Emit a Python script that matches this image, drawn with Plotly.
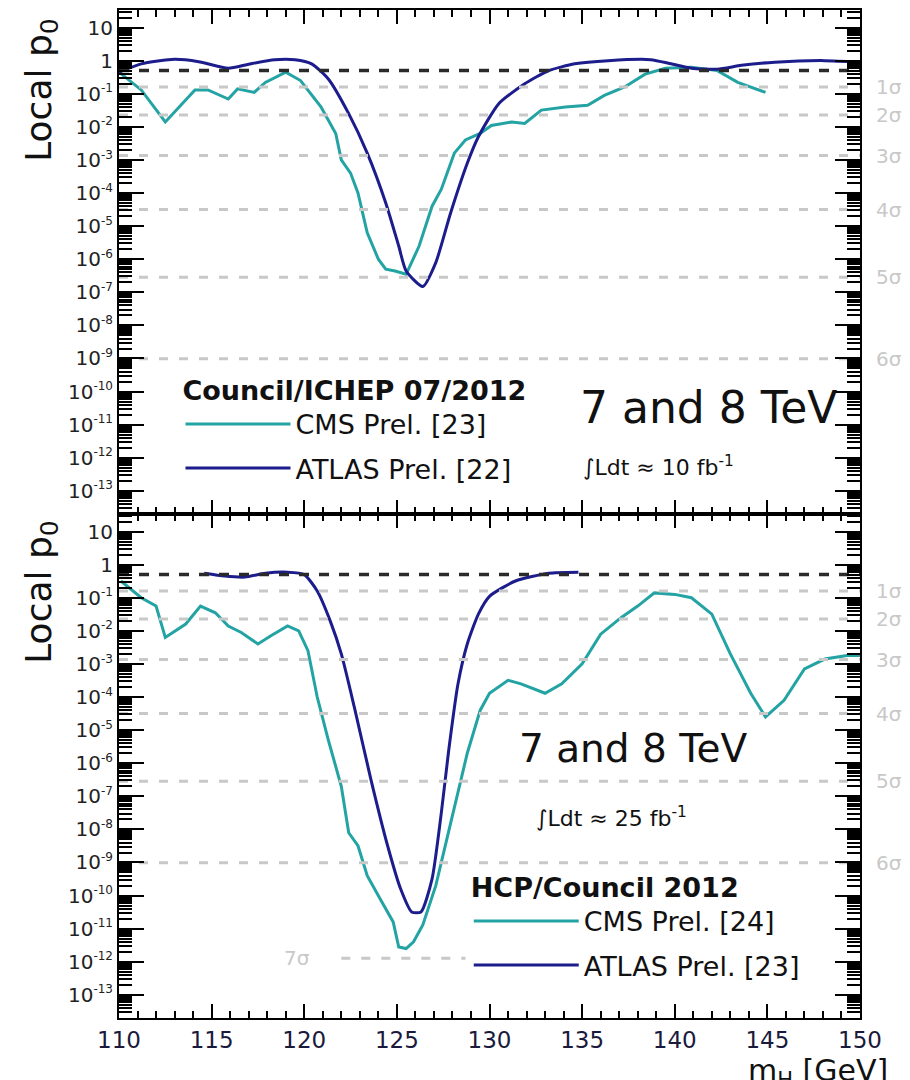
import math

import plotly.graph_objects as go
from plotly.subplots import make_subplots

# Council/ICHEP 07/2012 (top panel)
mass_cms_jul = [110.0, 111.2, 112.5, 114.1, 114.8, 115.9, 116.4, 117.3, 117.9, 119.0,
                119.8, 120.9, 121.7, 122.0, 122.5, 122.9, 123.4, 124.0, 124.4, 124.9,
                125.5, 126.2, 126.9, 127.4, 128.1, 128.7, 129.5, 130.1, 131.2, 131.9,
                132.8, 134.1, 135.3, 136.2, 137.3, 138.4, 139.5, 140.9, 142.3, 143.4, 144.9]
p0_cms_jul = [0.45, 0.13, 0.014, 0.13, 0.13, 0.069, 0.14, 0.11, 0.22, 0.45,
              0.25, 0.04, 6.3e-3, 1.0e-3, 4.0e-4, 1.0e-4, 6.3e-6, 1.0e-6, 5.0e-7, 4.4e-7,
              3.5e-7, 2.5e-6, 4.0e-5, 1.3e-4, 1.6e-3, 4.0e-3, 6.3e-3, 0.011, 0.014, 0.0126,
              0.032, 0.04, 0.045, 0.089, 0.16, 0.39, 0.59, 0.63, 0.5, 0.22, 0.11]

mass_atlas_jul = [110.0, 111.2, 113.0, 114.3, 115.9, 117.0, 118.4, 119.5, 120.4, 121.3,
                  122.4, 123.4, 124.4, 125.1, 125.5, 126.4, 127.1, 127.9, 128.8, 129.4,
                  130.5, 131.9, 133.2, 134.6, 136.4, 138.7, 139.8, 140.9, 142.3, 143.6,
                  145.4, 148.1, 150.0]
p0_atlas_jul = [0.45, 0.8, 1.1, 0.93, 0.59, 0.78, 1.07, 1.07, 0.8, 0.28,
                0.025, 1.6e-3, 5.0e-5, 2.5e-6, 4.4e-7, 1.5e-7, 7.9e-7, 2.5e-5, 7.9e-4, 5.0e-3,
                0.05, 0.2, 0.5, 0.8, 1.0, 1.07, 0.8, 0.59, 0.55, 0.72,
                0.9, 1.0, 0.9]

# HCP/Council 2012 (bottom panel)
mass_cms_hcp = [110.1, 111.2, 112.0, 112.5, 113.6, 114.4, 115.2, 115.9, 116.6, 117.5,
                118.2, 119.1, 119.7, 120.2, 120.7, 121.3, 122.0, 122.4, 122.9, 123.4,
                124.1, 124.8, 125.1, 125.5, 125.9, 126.4, 127.1, 127.4, 128.1, 128.8,
                129.5, 130.0, 131.0, 131.7, 133.0, 133.9, 135.0, 136.0, 137.1, 138.0,
                138.9, 140.0, 140.9, 142.0, 143.0, 144.1, 144.9, 145.9, 147.0, 148.1,
                149.3, 150.0]
p0_cms_hcp = [0.32, 0.1, 0.056, 6.3e-3, 0.016, 0.056, 0.035, 0.014, 8.9e-3, 4.0e-3,
              7.1e-3, 0.014, 0.01, 2.5e-3, 1.0e-4, 5.0e-6, 2.0e-7, 7.9e-9, 3.2e-9, 4.0e-10,
              7.9e-11, 1.6e-11, 2.8e-12, 2.5e-12, 4.0e-12, 1.3e-11, 2.0e-10, 1.0e-9, 5.0e-8, 2.0e-6,
              4.0e-5, 1.3e-4, 3.2e-4, 2.5e-4, 1.3e-4, 2.5e-4, 1.0e-3, 7.9e-3, 0.025, 0.056,
              0.14, 0.126, 0.1, 0.032, 2.0e-3, 1.3e-4, 2.5e-5, 7.9e-5, 7.1e-4, 1.4e-3,
              1.8e-3, 1.8e-3]

mass_atlas_hcp = [114.6, 115.7, 116.8, 117.9, 119.1, 120.0, 120.7, 121.4, 122.0, 122.7,
                  123.6, 124.5, 125.2, 125.8, 126.3, 126.9, 127.4, 127.8, 128.3, 128.8,
                  129.4, 130.0, 131.4, 133.2, 134.8]
p0_atlas_hcp = [0.55, 0.45, 0.42, 0.55, 0.59, 0.5, 0.16, 0.02, 2.0e-3, 5.0e-5,
                3.2e-7, 3.2e-9, 1.6e-10, 3.2e-11, 3.2e-11, 3.2e-10, 3.2e-8, 2.5e-6, 2.5e-4, 4.0e-3,
                0.032, 0.11, 0.32, 0.55, 0.59]

# significance reference lines
sigma_labels = ["1σ", "2σ", "3σ", "4σ", "5σ", "6σ"]
sigma_p0 = [0.1587, 0.02275, 1.35e-3, 3.17e-5, 2.87e-7, 9.87e-10]
p0_half = 0.5
p0_7sigma = 1.28e-12
mass_7sigma = [122.0, 128.7]
mass_range = [110, 150]

# y tick labels, one per decade
decades = list(range(1, -14, -1))
ytick_vals = [10.0 ** d for d in decades]
ytick_text = ["10" if d == 1 else "1" if d == 0 else
              f"10<sup><span style='font-size:12px'>-{abs(d)}</span></sup>" for d in decades]

CMS_COLOR = "#23a3a3"
ATLAS_COLOR = "#1c1c8c"
GREY = "#c8c8c8"
FONT = "DejaVu Sans"

fig = make_subplots(rows=2, cols=1, shared_xaxes=True, vertical_spacing=0)

panels = [
    (1, mass_cms_jul, p0_cms_jul, mass_atlas_jul, p0_atlas_jul, "legend", "CMS Prel. [23]", "ATLAS Prel. [22]"),
    (2, mass_cms_hcp, p0_cms_hcp, mass_atlas_hcp, p0_atlas_hcp, "legend2", "CMS Prel. [24]", "ATLAS Prel. [23]"),
]

for row, m_cms, p_cms, m_atl, p_atl, leg, name_cms, name_atl in panels:
    fig.add_trace(go.Scatter(x=m_cms, y=p_cms, mode="lines", name=name_cms,
                             line=dict(color=CMS_COLOR, width=3), legend=leg,
                             legendgroup=f"cms{row}"), row=row, col=1)
    fig.add_trace(go.Scatter(x=m_atl, y=p_atl, mode="lines", name=name_atl,
                             line=dict(color=ATLAS_COLOR, width=3, shape="spline", smoothing=0.6),
                             legend=leg, legendgroup=f"atlas{row}"), row=row, col=1)
    for p in sigma_p0:
        fig.add_trace(go.Scatter(x=mass_range, y=[p, p], mode="lines", showlegend=False,
                                 line=dict(color=GREY, width=3, dash="9px,11px")), row=row, col=1)
    fig.add_trace(go.Scatter(x=mass_range, y=[p0_half, p0_half], mode="lines", showlegend=False,
                             line=dict(color="#2a2a2a", width=3.5, dash="10px,10px")), row=row, col=1)
    for lab, p in zip(sigma_labels, sigma_p0):
        fig.add_annotation(text=lab, xref="paper", x=1.0, xanchor="left", xshift=14,
                           yref=f"y{row if row > 1 else ''}", y=math.log10(p), showarrow=False,
                           font=dict(family=FONT, size=20, color=GREY))

fig.add_trace(go.Scatter(x=mass_7sigma, y=[p0_7sigma, p0_7sigma], mode="lines", showlegend=False,
                         line=dict(color=GREY, width=3, dash="9px,11px")), row=2, col=1)
fig.add_annotation(text="7σ", x=120.4, xanchor="right", xref="x2", yref="y2",
                   y=math.log10(p0_7sigma), showarrow=False,
                   font=dict(family=FONT, size=20, color=GREY))

xaxis_style = dict(range=mass_range, dtick=5, ticks="inside", ticklen=14, tickwidth=2,
                   tickcolor="black", mirror="allticks", showline=True, linewidth=2,
                   linecolor="black", showgrid=False, zeroline=False, automargin=False,
                   minor=dict(dtick=1, ticks="inside", ticklen=7, tickwidth=2, tickcolor="black"),
                   tickfont=dict(family=FONT, size=23, color="#1a1a3c"))
yaxis_style = dict(type="log", range=[-13.7, 1.53], tickmode="array", tickvals=ytick_vals,
                   ticktext=ytick_text, ticks="inside", ticklen=25, automargin=False,
                   tickwidth=2, tickcolor="black", mirror="allticks", showline=True,
                   linewidth=2, linecolor="black", showgrid=False, zeroline=False,
                   minor=dict(dtick="D1", ticks="inside", ticklen=13, tickwidth=2, tickcolor="black"),
                   tickfont=dict(family=FONT, size=20, color="#222222"))

fig.update_xaxes(**xaxis_style)
fig.update_xaxes(showticklabels=False, row=1, col=1)
fig.update_yaxes(**yaxis_style)

for ypos in (0.921, 0.423):
    fig.add_annotation(text="Local p<sub>0</sub>", xref="paper", yref="paper", x=-0.105, y=ypos,
                       xanchor="center", yanchor="middle", textangle=-90, showarrow=False,
                       font=dict(family=FONT, size=36, color="#111111"))

fig.add_annotation(text="m<sub>H</sub> [GeV]", xref="paper", yref="paper", x=1.04, y=-0.054,
                   xanchor="right", yanchor="middle", showarrow=False,
                   font=dict(family=FONT, size=30, color="#111111"))

texts = [
    ("7 and 8 TeV", 0.796, 0.606, 44),
    ("∫Ldt ≈ 10 fb<sup>-1</sup>", 0.728, 0.548, 22),
    ("7 and 8 TeV", 0.694, 0.267, 39),
    ("∫Ldt ≈ 25 fb<sup>-1</sup>", 0.664, 0.199, 22),
]
for txt, xp, yp, size in texts:
    fig.add_annotation(text=txt, xref="paper", yref="paper", x=xp, y=yp,
                       xanchor="center", yanchor="middle", showarrow=False,
                       font=dict(family=FONT, size=size, color="#111111"))

legend_style = dict(xanchor="left", yanchor="top", bgcolor="rgba(0,0,0,0)",
                    font=dict(family=FONT, size=27, color="#111111"),
                    tracegroupgap=6, itemwidth=105)
fig.update_layout(
    width=910, height=1080,
    margin=dict(l=111, r=58, t=2, b=70),
    paper_bgcolor="white", plot_bgcolor="white",
    font=dict(family=FONT),
    legend=dict(x=0.083, y=0.648,
                title=dict(text="<b>Council/ICHEP 07/2012</b>", font=dict(family=FONT, size=27)),
                **legend_style),
    legend2=dict(x=0.472, y=0.155,
                 title=dict(text="<b>HCP/Council 2012</b>", font=dict(family=FONT, size=27)),
                 **legend_style),
)

fig.write_html("out.html")
